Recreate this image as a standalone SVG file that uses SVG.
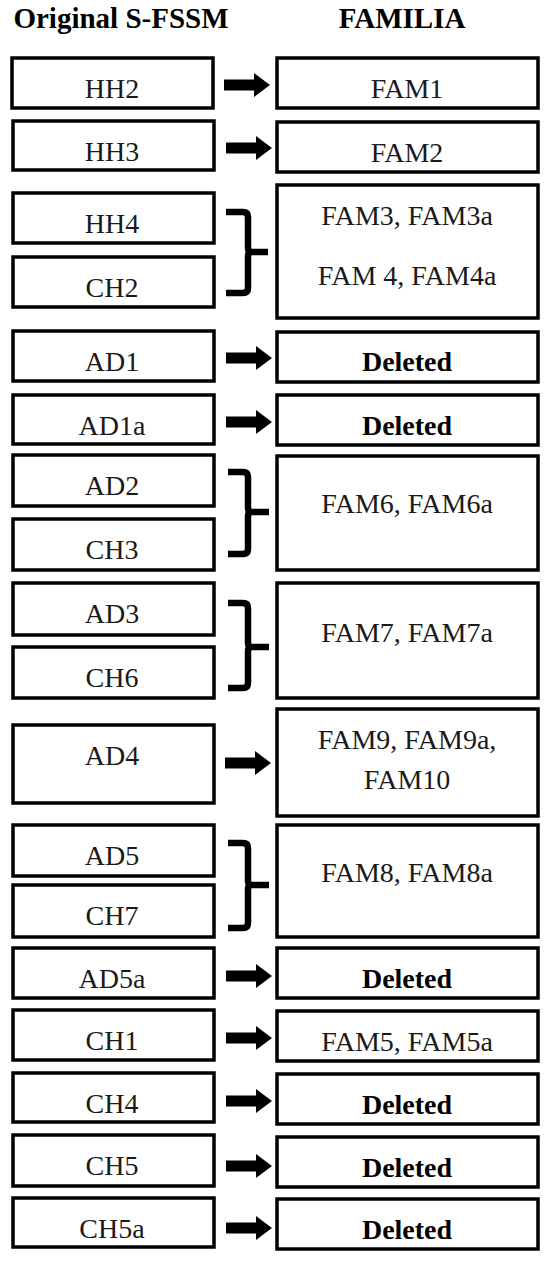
<svg xmlns="http://www.w3.org/2000/svg" width="550" height="1265" viewBox="0 0 550 1265">
<defs>
<style>
.b{fill:#fff;stroke:#000;stroke-width:3.5}
.t{font-family:"Liberation Serif",serif;font-size:28px;fill:#1a1a1a;text-anchor:middle}
.d{font-family:"Liberation Serif",serif;font-size:28px;font-weight:bold;fill:#000;text-anchor:middle}
.h{font-family:"Liberation Serif",serif;font-size:29px;font-weight:bold;fill:#000;text-anchor:middle}
.br{fill:none;stroke:#000;stroke-width:6.5;stroke-linejoin:round}
</style>
<path id="arr" d="M0,-5.5 H30 V-12 L46,0 L30,12 V5.5 H0 Z" fill="#000"/>
</defs>
<rect width="550" height="1265" fill="#fff"/>
<text class="h" x="121" y="28">Original S-FSSM</text>
<text class="h" x="402" y="28">FAMILIA</text>

<g id="connectors">
<use href="#arr" x="224" y="85"/>
<use href="#arr" x="226" y="148"/>
<use href="#arr" x="226" y="358"/>
<use href="#arr" x="226" y="422"/>
<use href="#arr" x="225" y="763"/>
<use href="#arr" x="226" y="976"/>
<use href="#arr" x="226" y="1038"/>
<use href="#arr" x="226" y="1101"/>
<use href="#arr" x="226" y="1166"/>
<use href="#arr" x="226" y="1228"/>
<path class="br" d="M226,212 H243 Q248,212 248,217 V248 Q248,252 252,252 H268 M252,252 Q248,252 248,256 V288 Q248,293 243,293 H226"/>
<path class="br" d="M228,472 H243 Q248,472 248,477 V508 Q248,512 252,512 H269 M252,512 Q248,512 248,516 V549 Q248,554 243,554 H228"/>
<path class="br" d="M228,603 H243 Q248,603 248,608 V643 Q248,647 252,647 H269 M252,647 Q248,647 248,651 V683 Q248,688 243,688 H228"/>
<path class="br" d="M228,843 H243 Q248,843 248,848 V881 Q248,885 252,885 H269 M252,885 Q248,885 248,889 V923 Q248,928 243,928 H228"/>
</g>

<g id="n-hh2"><rect class="b" x="12" y="58" width="201" height="50"/><text class="t" x="112" y="98">HH2</text></g>
<g id="n-fam1"><rect class="b" x="277" y="58" width="261" height="50"/><text class="t" x="407" y="98">FAM1</text></g>
<g id="n-hh3"><rect class="b" x="13" y="121" width="201" height="49"/><text class="t" x="112" y="161">HH3</text></g>
<g id="n-fam2"><rect class="b" x="277" y="122" width="261" height="50"/><text class="t" x="407" y="162">FAM2</text></g>
<g id="n-hh4"><rect class="b" x="13" y="193" width="201" height="50"/><text class="t" x="112" y="233">HH4</text></g>
<g id="n-ch2"><rect class="b" x="13" y="257" width="201" height="50"/><text class="t" x="112" y="297">CH2</text></g>
<g id="n-fam3"><rect class="b" x="277" y="185" width="261" height="133"/><text class="t" x="407" y="225">FAM3, FAM3a</text><text class="t" x="407" y="285">FAM 4, FAM4a</text></g>
<g id="n-ad1"><rect class="b" x="13" y="331" width="201" height="50"/><text class="t" x="112" y="371">AD1</text></g>
<g id="n-del1"><rect class="b" x="277" y="332" width="261" height="50"/><text class="d" x="407" y="371">Deleted</text></g>
<g id="n-ad1a"><rect class="b" x="13" y="395" width="201" height="49"/><text class="t" x="112" y="435">AD1a</text></g>
<g id="n-del2"><rect class="b" x="277" y="395" width="261" height="50"/><text class="d" x="407" y="435">Deleted</text></g>
<g id="n-ad2"><rect class="b" x="13" y="455" width="201" height="51"/><text class="t" x="112" y="495">AD2</text></g>
<g id="n-ch3"><rect class="b" x="13" y="519" width="201" height="51"/><text class="t" x="112" y="559">CH3</text></g>
<g id="n-fam6"><rect class="b" x="277" y="456" width="261" height="114"/><text class="t" x="407" y="513">FAM6, FAM6a</text></g>
<g id="n-ad3"><rect class="b" x="13" y="583" width="201" height="52"/><text class="t" x="112" y="623">AD3</text></g>
<g id="n-ch6"><rect class="b" x="13" y="647" width="201" height="51"/><text class="t" x="112" y="687">CH6</text></g>
<g id="n-fam7"><rect class="b" x="277" y="583" width="261" height="115"/><text class="t" x="407" y="642">FAM7, FAM7a</text></g>
<g id="n-ad4"><rect class="b" x="13" y="725" width="201" height="78"/><text class="t" x="112" y="765">AD4</text></g>
<g id="n-fam9"><rect class="b" x="277" y="709" width="261" height="107"/><text class="t" x="407" y="749">FAM9, FAM9a,</text><text class="t" x="407" y="789">FAM10</text></g>
<g id="n-ad5"><rect class="b" x="13" y="825" width="201" height="51"/><text class="t" x="112" y="865">AD5</text></g>
<g id="n-ch7"><rect class="b" x="13" y="885" width="201" height="52"/><text class="t" x="112" y="925">CH7</text></g>
<g id="n-fam8"><rect class="b" x="277" y="825" width="261" height="112"/><text class="t" x="407" y="882">FAM8, FAM8a</text></g>
<g id="n-ad5a"><rect class="b" x="13" y="948" width="201" height="50"/><text class="t" x="112" y="988">AD5a</text></g>
<g id="n-del3"><rect class="b" x="277" y="948" width="261" height="50"/><text class="d" x="407" y="988">Deleted</text></g>
<g id="n-ch1"><rect class="b" x="13" y="1010" width="201" height="50"/><text class="t" x="112" y="1050">CH1</text></g>
<g id="n-fam5"><rect class="b" x="277" y="1011" width="261" height="50"/><text class="t" x="407" y="1051">FAM5, FAM5a</text></g>
<g id="n-ch4"><rect class="b" x="13" y="1073" width="201" height="49"/><text class="t" x="112" y="1113">CH4</text></g>
<g id="n-del4"><rect class="b" x="277" y="1074" width="261" height="50"/><text class="d" x="407" y="1114">Deleted</text></g>
<g id="n-ch5"><rect class="b" x="13" y="1135" width="201" height="51"/><text class="t" x="112" y="1175">CH5</text></g>
<g id="n-del5"><rect class="b" x="277" y="1137" width="261" height="50"/><text class="d" x="407" y="1177">Deleted</text></g>
<g id="n-ch5a"><rect class="b" x="13" y="1198" width="201" height="49"/><text class="t" x="112" y="1238">CH5a</text></g>
<g id="n-del6"><rect class="b" x="277" y="1199" width="261" height="50"/><text class="d" x="407" y="1239">Deleted</text></g>
</svg>
